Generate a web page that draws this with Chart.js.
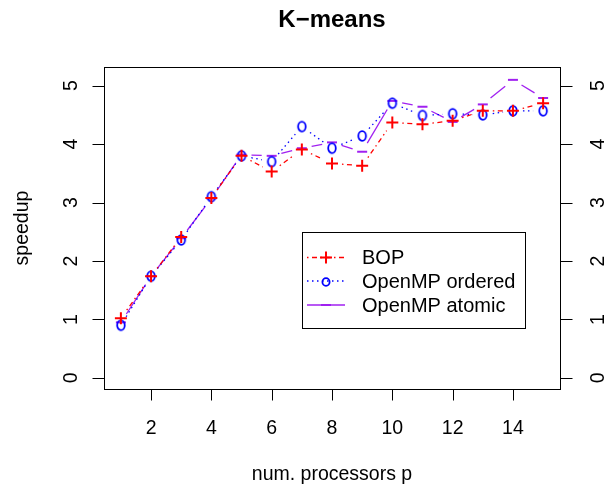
<!DOCTYPE html>
<html>
<head>
<meta charset="utf-8">
<script src="https://cdn.jsdelivr.net/npm/chart.js"></script>
<style>
  html, body { margin: 0; padding: 0; background: #fff; }
  #wrap { width: 611px; height: 487px; }
</style>
</head>
<body>
<div id="wrap"><canvas id="grafico" width="611" height="487"></canvas></div>
<script>
// datos
const procesadores = [1, 2, 3, 4, 5, 6, 7, 8, 9, 10, 11, 12, 13, 14, 15];
const bop       = [1.02, 1.74, 2.41, 3.08, 3.80, 3.53, 3.91, 3.67, 3.63, 4.37, 4.34, 4.40, 4.57, 4.57, 4.70];
const ordered   = [0.90, 1.74, 2.36, 3.10, 3.80, 3.70, 4.30, 3.93, 4.14, 4.70, 4.49, 4.52, 4.50, 4.57, 4.57];
const atomic    = [0.95, 1.74, 2.39, 3.07, 3.82, 3.80, 3.93, 4.03, 3.87, 4.74, 4.64, 4.38, 4.68, 5.10, 4.79];
const xTicks = [2, 4, 6, 8, 10, 12, 14];
const yTicks = [0, 1, 2, 3, 4, 5];
const nombres = ['BOP', 'OpenMP ordered', 'OpenMP atomic'];

const ROJO = '#ff0000', AZUL = '#0000ff', MORADO = '#a020f0';
const FUENTE = '"Liberation Sans", Arial, sans-serif';

// patrones de linea tipo R (dotdash, dotted, solid)
const dashes = [[1.5, 3.5, 5, 3.5], [1.5, 3.5], []];

// tipo "b" de R: hueco alrededor de cada punto
function dashConHueco(base, L, g) {
    const inner = L - 2 * g;
    if (inner <= 0) return [0, L + 100];
    const out = [0, g];
    if (!base.length) { out.push(inner, g + 1000); return out; }
    let acc = 0, i = 0;
    while (acc < inner - 0.001) {
        const s = Math.min(base[i % base.length], inner - acc);
        out.push(s); acc += s; i++;
    }
    if (out.length % 2 === 1) out.push(g + 1000);
    else out[out.length - 1] += g + 1000;
    return out;
}
function segmento(base) {
    return {
        borderDash: (c) => {
            const L = Math.hypot(c.p1.x - c.p0.x, c.p1.y - c.p0.y);
            return dashConHueco(base, L, 10);
        },
        borderDashOffset: 0
    };
}

// marcador "O" como imagen (ovalo azul)
function marcadorO(color) {
    const cv = document.createElement('canvas');
    cv.width = 14; cv.height = 16;
    const c = cv.getContext('2d');
    c.strokeStyle = color;
    c.lineWidth = 1.8;
    c.beginPath();
    c.ellipse(7, 8, 3.8, 4.8, 0, 0, Math.PI * 2);
    c.stroke();
    return cv;
}
const marcaO = marcadorO(AZUL);

const rBase = {
    id: 'rBase',
    afterDraw(chart) {
        const { ctx, chartArea: a, scales: { x, y } } = chart;
        ctx.save();
        ctx.strokeStyle = '#000';
        ctx.lineWidth = 1;
        ctx.setLineDash([]);
        ctx.strokeRect(Math.round(a.left) + 0.5, Math.round(a.top) + 0.5,
            Math.round(a.right - a.left), Math.round(a.bottom - a.top));

        // marcas de los ejes
        ctx.beginPath();
        xTicks.forEach(v => {
            const px = Math.round(x.getPixelForValue(v)) + 0.5;
            ctx.moveTo(px, a.bottom); ctx.lineTo(px, a.bottom + 11.5);
        });
        yTicks.forEach(v => {
            const py = Math.round(y.getPixelForValue(v)) + 0.5;
            ctx.moveTo(a.left, py); ctx.lineTo(a.left - 11.5, py);
            ctx.moveTo(a.right, py); ctx.lineTo(a.right + 12.5, py);
        });
        ctx.stroke();

        ctx.fillStyle = '#000';
        ctx.font = '19.5px ' + FUENTE;
        ctx.textAlign = 'center';
        ctx.textBaseline = 'alphabetic';
        xTicks.forEach(v => ctx.fillText(String(v), x.getPixelForValue(v), 434));
        yTicks.forEach(v => {
            const py = y.getPixelForValue(v);
            ctx.save(); ctx.translate(76.5, py); ctx.rotate(-Math.PI / 2);
            ctx.fillText(String(v), 0, 0); ctx.restore();
            ctx.save(); ctx.translate(603.5, py); ctx.rotate(-Math.PI / 2);
            ctx.fillText(String(v), 0, 0); ctx.restore();
        });

        // titulos
        ctx.font = 'bold 24px ' + FUENTE;
        ctx.fillText('K\u2212means', (a.left + a.right) / 2, 27);
        ctx.font = '19.5px ' + FUENTE;
        ctx.fillText('num. processors p', (a.left + a.right) / 2, 480);
        ctx.save(); ctx.translate(27.5, (a.top + a.bottom) / 2); ctx.rotate(-Math.PI / 2);
        ctx.fillText('speedup', 0, 0); ctx.restore();

        // leyenda
        const lx = 302.5, ly = 232.5, lw = 223, lh = 96;
        ctx.strokeRect(lx, ly, lw, lh);
        const filas = [257.5, 281, 305];
        const colores = [ROJO, AZUL, MORADO];
        filas.forEach((fy, i) => {
            ctx.save();
            ctx.strokeStyle = colores[i];
            ctx.lineWidth = 1.3;
            ctx.setLineDash(dashes[i]);
            ctx.beginPath(); ctx.moveTo(307, fy); ctx.lineTo(345, fy); ctx.stroke();
            ctx.setLineDash([]);
            ctx.lineWidth = 2;
            ctx.beginPath();
            if (i === 0) {
                ctx.moveTo(320, fy); ctx.lineTo(332, fy);
                ctx.moveTo(326, fy - 6); ctx.lineTo(326, fy + 6);
                ctx.stroke();
            } else if (i === 1) {
                ctx.lineWidth = 1.8;
                ctx.ellipse(326, fy + 1, 3.6, 3.9, 0, 0, Math.PI * 2);
                ctx.stroke();
            } else {
                ctx.moveTo(321, fy); ctx.lineTo(331, fy); ctx.stroke();
            }
            ctx.restore();
            ctx.fillStyle = '#000';
            ctx.font = '20px ' + FUENTE;
            ctx.textAlign = 'left';
            ctx.textBaseline = 'middle';
            ctx.fillText(nombres[i], 362, fy + 1);
        });
        ctx.restore();
    }
};

const toXY = (vals) => vals.map((v, i) => ({ x: procesadores[i], y: v }));

new Chart(document.getElementById('grafico').getContext('2d'), {
    type: 'line',
    data: {
        datasets: [
            {
                label: nombres[0], data: toXY(bop),
                borderColor: ROJO, borderWidth: 1.3, tension: 0,
                pointStyle: 'cross', pointRadius: 6, pointBorderWidth: 2,
                pointBorderColor: ROJO, pointBackgroundColor: ROJO,
                segment: segmento(dashes[0])
            },
            {
                label: nombres[1], data: toXY(ordered),
                borderColor: AZUL, borderWidth: 1.3, tension: 0,
                pointStyle: marcaO, pointRadius: 6,
                segment: segmento(dashes[1])
            },
            {
                label: nombres[2], data: toXY(atomic),
                borderColor: MORADO, borderWidth: 1.3, tension: 0,
                pointStyle: 'line', pointRadius: 5, pointBorderWidth: 2,
                pointBorderColor: MORADO,
                segment: segmento(dashes[2])
            }
        ]
    },
    options: {
        responsive: false,
        animation: false,
        devicePixelRatio: 1,
        layout: { padding: { left: 104, right: 51, top: 67, bottom: 98 } },
        scales: {
            x: { type: 'linear', min: 0.44, max: 15.56, display: false },
            y: { type: 'linear', min: -0.19, max: 5.32, display: false }
        },
        plugins: {
            legend: { display: false },
            title: { display: false },
            tooltip: { enabled: false }
        }
    },
    plugins: [rBase]
});
</script>
</body>
</html>
